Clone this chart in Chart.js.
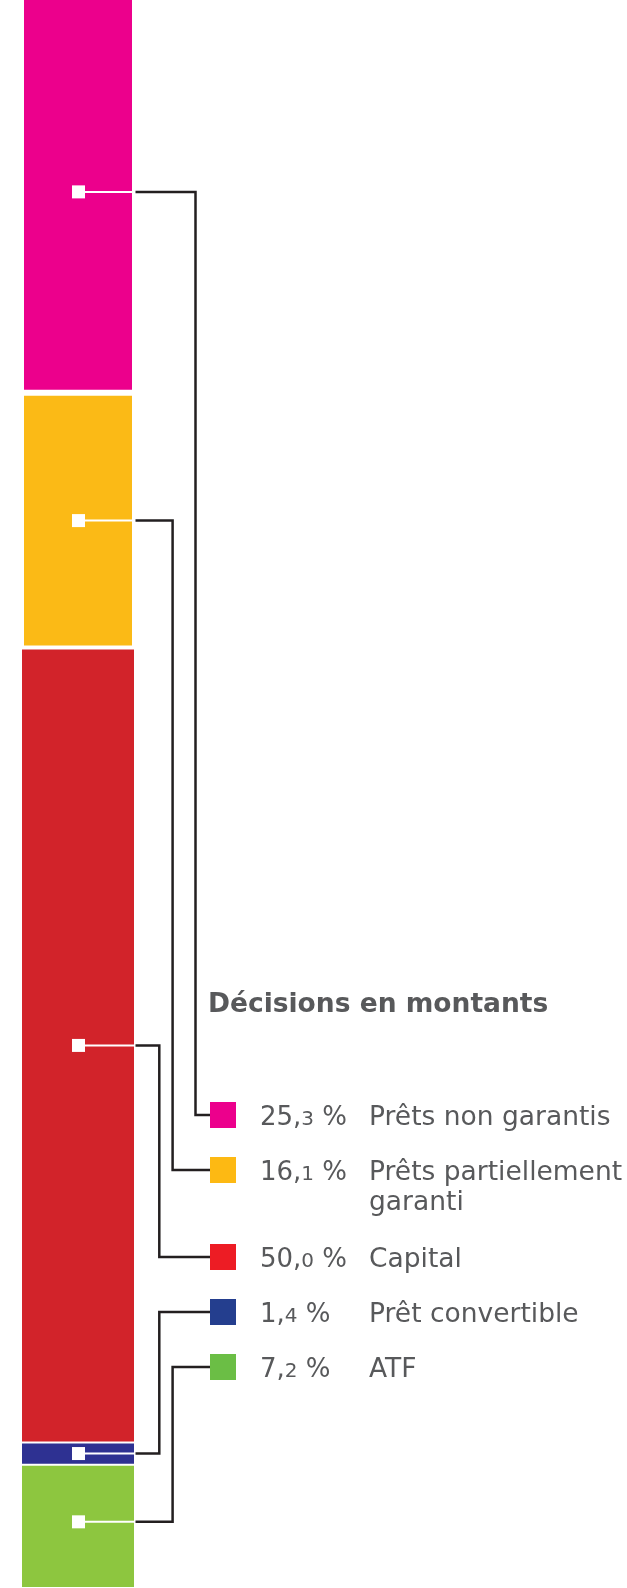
<!DOCTYPE html>
<html lang="fr">
<head>
<meta charset="utf-8">
<script src="https://cdn.jsdelivr.net/npm/chart.js@4.4.1/dist/chart.umd.min.js"></script>
<style>
html,body{margin:0;padding:0;background:#fff;overflow:hidden;width:627px;height:1588px;}
#wrap{position:absolute;left:0;top:-9px;width:627px;height:1597px;}
</style>
</head>
<body>
<div id="wrap"><canvas id="c"></canvas></div>
<script>
// ---- data ----
const chartTitle = 'Décisions en montants';
const categories = ['Décisions en montants'];
const seriesLabels = ['Prêts non garantis', 'Prêts partiellement garanti', 'Capital', 'Prêt convertible', 'ATF'];
const seriesValues = [25.3, 16.1, 50.0, 1.4, 7.2];
const barColors = ['#EC008C', '#FBBA16', '#D2232A', '#2E3192', '#8DC63F'];
const legendColors = ['#EC008C', '#FDB913', '#ED1C24', '#243E8E', '#6BBE45'];

// ---- layout / style ----
const OFF = 9;                 // canvas is shifted up by this many px
const FONT = '"DejaVu Sans", Verdana, sans-serif';
const TEXT = '#58595B';
const LINE = '#231F20';
const connectorX = [195.5, 172.6, 159.3, 159.3, 172.6];
const legendSqX = 210, legendSq = 26, pctX = 260, labelX = 369;
const rowY0 = 1115, rowStep = 55, extraLineStep = 32, lineH = 30;

const n = seriesLabels.length;
const datasets = seriesLabels.map((l, i) => {
  const ds = {
    label: l,
    data: [seriesValues[i]],
    backgroundColor: barColors[i],
    borderColor: '#ffffff',
    borderWidth: i < 2 ? 3 : 1,
    borderSkipped: false,
    inflateAmount: 0,
    barPercentage: 114 / 156,
    categoryPercentage: 1
  };
  if (i === n - 1) ds.base = -0.567;
  return ds;
}).reverse();

function wrapText(ctx, text, maxW) {
  const words = text.split(' ');
  const lines = [];
  let cur = '';
  for (const w of words) {
    const t = cur ? cur + ' ' + w : w;
    if (cur && ctx.measureText(t).width > maxW) { lines.push(cur); cur = w; }
    else cur = t;
  }
  if (cur) lines.push(cur);
  return lines;
}

const overlay = {
  id: 'overlay',
  afterDraw(chart) {
    const ctx = chart.ctx;
    const ys = chart.scales.y;
    ctx.save();

    // title
    ctx.fillStyle = TEXT;
    ctx.textBaseline = 'alphabetic';
    ctx.font = 'bold 26.5px ' + FONT;
    ctx.fillText(chartTitle, 208, 1012 + OFF);

    // legend rows
    const labelFont = '26.5px ' + FONT;
    const rows = [];
    let extra = 0;
    for (let i = 0; i < n; i++) {
      ctx.font = labelFont;
      const lines = wrapText(ctx, seriesLabels[i], 627 - labelX);
      const y = rowY0 + rowStep * i + extraLineStep * extra + OFF;
      rows.push({ y, lines });
      extra += lines.length - 1;
    }

    // segment centres from the bottom of the stack
    let cum = 0;
    const centers = new Array(n);
    for (let i = n - 1; i >= 0; i--) {
      centers[i] = cum + seriesValues[i] / 2;
      cum += seriesValues[i];
    }

    for (let i = 0; i < n; i++) {
      const meta = chart.getDatasetMeta(n - 1 - i);
      const el = meta.data[0];
      const right = el.x + el.width / 2;
      const cy = ys.getPixelForValue(centers[i]);
      const ry = rows[i].y;

      // white tick + square inside the bar
      ctx.strokeStyle = '#ffffff';
      ctx.lineWidth = 2;
      ctx.beginPath();
      ctx.moveTo(el.x, cy);
      ctx.lineTo(right - 1, cy);
      ctx.stroke();
      ctx.fillStyle = '#ffffff';
      ctx.fillRect(el.x - 6, cy - 6.5, 13, 13);

      // connector
      ctx.strokeStyle = LINE;
      ctx.lineWidth = 2.5;
      ctx.lineJoin = 'miter';
      ctx.beginPath();
      ctx.moveTo(right + 0.5, cy);
      ctx.lineTo(connectorX[i], cy);
      ctx.lineTo(connectorX[i], ry);
      ctx.lineTo(legendSqX, ry);
      ctx.stroke();

      // legend square
      ctx.fillStyle = legendColors[i];
      ctx.fillRect(legendSqX, ry - legendSq / 2, legendSq, legendSq);

      // percentage: big integer part, small decimal
      const base = ry + 10;
      const parts = seriesValues[i].toFixed(1).split('.');
      ctx.fillStyle = TEXT;
      let x = pctX;
      ctx.font = '26px ' + FONT;
      ctx.fillText(parts[0] + ',', x, base);
      x += ctx.measureText(parts[0] + ',').width;
      ctx.font = '20px ' + FONT;
      ctx.fillText(parts[1], x, base);
      x += ctx.measureText(parts[1]).width;
      ctx.font = '26px ' + FONT;
      ctx.fillText(' %', x, base);

      // label
      ctx.font = labelFont;
      rows[i].lines.forEach((t, k) => ctx.fillText(t, labelX, base + k * lineH));
    }
    ctx.restore();
  }
};

new Chart(document.getElementById('c'), {
  type: 'bar',
  data: { labels: categories, datasets },
  options: {
    responsive: true,
    maintainAspectRatio: false,
    animation: false,
    layout: { padding: { left: 0, right: 471, top: 0, bottom: 0 } },
    plugins: { legend: { display: false }, tooltip: { enabled: false }, title: { display: false } },
    scales: {
      x: { stacked: true, display: false },
      y: { stacked: true, display: false, min: -0.567, max: 100 }
    }
  },
  plugins: [overlay]
});
</script>
</body>
</html>
